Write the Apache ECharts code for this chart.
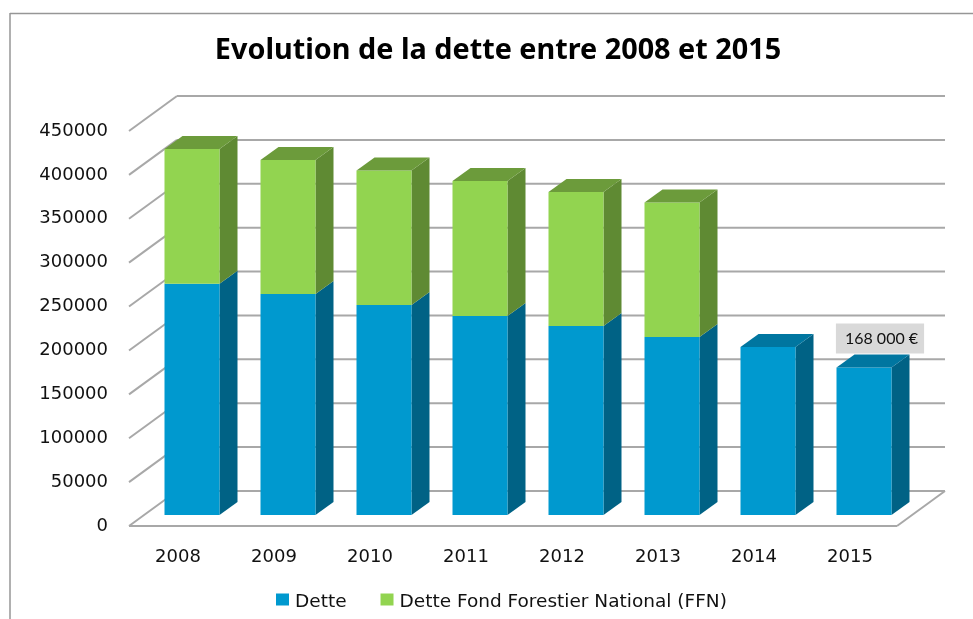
<!DOCTYPE html>
<html>
<head>
<meta charset="utf-8">
<style>
  html, body { margin: 0; padding: 0; background: #fff; }
  #chart { width: 973px; height: 619px; }
</style>
<script src="https://cdn.jsdelivr.net/npm/echarts@6/dist/echarts.min.js"></script>
</head>
<body>
<div id="chart"></div>
<script>
const years = ['2008', '2009', '2010', '2011', '2012', '2013', '2014', '2015']
const dette = [263500, 251800, 239200, 226700, 215300, 202800, 191400, 168000]
const detteFfn = [153400, 152600, 153300, 153800, 152700, 153200, 0, 0]
const gridTicks = [0, 50000, 100000, 150000, 200000, 250000, 300000, 350000, 400000, 450000]
const noteYear = 7
const noteValue = 168000
const noteText = '168 000 €'

const chartFont = '"DejaVu Sans", sans-serif'

// 3D look: depth of the back wall and of the bars, in pixels
const wallDx = 48
const wallDy = -35
const barShiftX = 15
const barShiftY = -11
const barDx = 18
const barDy = -13
const barRatio = 55 / 96

function poly(points, fill) {
  return { type: 'polygon', shape: { points }, style: { fill, stroke: null } }
}

// one block of a bar, between two values, with front, side and optional top faces
function renderBlock(api, from, to, colors, withTop) {
  const cat = api.value(0)
  const w = api.size([1, 0])[0] * barRatio
  const c0 = api.coord([cat, from])
  const c1 = api.coord([cat, to])
  const l = c0[0] + barShiftX - w / 2
  const r = l + w
  const y0 = c0[1] + barShiftY
  const y1 = c1[1] + barShiftY
  const children = [
    poly([[r, y0], [r + barDx, y0 + barDy], [r + barDx, y1 + barDy], [r, y1]], colors.side),
    poly([[l, y0], [r, y0], [r, y1], [l, y1]], colors.front),
  ]
  if (withTop) {
    children.push(poly([[l, y1], [r, y1], [r + barDx, y1 + barDy], [l + barDx, y1 + barDy]], colors.top))
  }
  return { type: 'group', children }
}

const blue = { front: '#0099cf', side: '#006285', top: '#0076a0' }
const green = { front: '#92d450', side: '#5f8a33', top: '#6c9b3b' }

const chart = echarts.init(document.getElementById('chart'))

chart.setOption({
  animation: false,
  title: {
    text: 'Evolution de la dette entre 2008 et 2015',
    left: 493,
    top: 31,
    textAlign: 'center',
    textStyle: { fontFamily: '"Noto Sans", sans-serif', fontSize: 28.8, fontWeight: 'bold', color: '#000' },
  },
  legend: {
    data: ['Dette', 'Dette Fond Forestier National (FFN)'],
    left: 276,
    top: 593,
    padding: 0,
    icon: 'rect',
    itemWidth: 13,
    itemHeight: 12,
    itemGap: 34,
    formatter: '{t|{name}}',
    textStyle: {
      rich: {
        t: { fontFamily: chartFont, fontSize: 18.5, color: '#111', padding: [6, 0, 0, 1] },
      },
    },
  },
  grid: { left: 129, top: 131, width: 768, height: 395 },
  xAxis: {
    type: 'category',
    data: years,
    axisLine: { show: false },
    axisTick: { show: false },
    axisLabel: { margin: 22, fontFamily: chartFont, fontSize: 18, color: '#111', padding: [0, 0, 0, 2] },
  },
  yAxis: {
    type: 'value',
    min: 0,
    max: 450000,
    interval: 50000,
    axisLine: { show: false },
    axisTick: { show: false },
    splitLine: { show: false },
    axisLabel: {
      margin: 21,
      formatter: v => String(v),
      fontFamily: chartFont,
      fontSize: 18,
      color: '#111',
      padding: [6, 0, 0, 0],
    },
  },
  // chart frame: only the top and left edges show
  graphic: [
    { type: 'line', z: 0, shape: { x1: 10, y1: 13.5, x2: 973, y2: 13.5 }, style: { stroke: '#969696', lineWidth: 1.5 } },
    { type: 'line', z: 0, shape: { x1: 10, y1: 13, x2: 10, y2: 619 }, style: { stroke: '#969696', lineWidth: 1.5 } },
  ],
  series: [
    {
      // side wall and back wall grid lines, plus the floor
      type: 'custom',
      name: 'grille',
      z: 1,
      silent: true,
      data: gridTicks.map(v => [v]),
      encode: { y: 0 },
      renderItem(params, api) {
        const v = api.value(0)
        const a = api.coord([0, v])
        const x0 = params.coordSys.x
        const x1 = x0 + params.coordSys.width
        const y = a[1]
        const stroke = { stroke: '#a8a8a8', fill: null }
        const children = [
          { type: 'line', shape: { x1: x0, y1: y, x2: x0 + wallDx, y2: y + wallDy }, style: { ...stroke, lineWidth: 2 } },
          { type: 'line', shape: { x1: x0 + wallDx, y1: y + wallDy, x2: x1 + wallDx, y2: y + wallDy }, style: { ...stroke, lineWidth: 2 } },
        ]
        if (v === 0) {
          children.push(
            { type: 'line', shape: { x1: x0, y1: y, x2: x1, y2: y }, style: { ...stroke, lineWidth: 2 } },
            { type: 'line', shape: { x1: x1, y1: y, x2: x1 + wallDx, y2: y + wallDy }, style: { ...stroke, lineWidth: 2 } },
          )
        }
        return { type: 'group', children }
      },
    },
    {
      // grey note above the 2015 bar, sits behind the bar's top face
      type: 'custom',
      name: 'note',
      z: 2,
      silent: true,
      data: [[noteYear, noteValue]],
      encode: { x: 0, y: 1 },
      renderItem(params, api) {
        const p = api.coord([api.value(0), api.value(1)])
        return {
          type: 'text',
          x: p[0] + 31,
          y: p[1] - 40,
          style: {
            text: noteText,
            x: 0,
            y: 0,
            align: 'center',
            verticalAlign: 'middle',
            fontFamily: 'Lato, sans-serif',
            fontSize: 16,
            fill: '#111',
            backgroundColor: '#d9d9d9',
            padding: [8, 6, 6, 9],
          },
        }
      },
    },
    {
      type: 'custom',
      name: 'Dette',
      z: 3,
      itemStyle: { color: blue.front },
      data: years.map((y, i) => [i, dette[i]]),
      encode: { x: 0, y: 1 },
      renderItem(params, api) {
        return renderBlock(api, 0, api.value(1), blue, !detteFfn[api.value(0)])
      },
    },
    {
      type: 'custom',
      name: 'Dette Fond Forestier National (FFN)',
      z: 4,
      itemStyle: { color: green.front },
      data: years.map((y, i) => [i, dette[i], dette[i] + detteFfn[i]]),
      encode: { x: 0, y: 2 },
      renderItem(params, api) {
        if (api.value(2) === api.value(1)) return null
        return renderBlock(api, api.value(1), api.value(2), green, true)
      },
    },
  ],
})
</script>
</body>
</html>
